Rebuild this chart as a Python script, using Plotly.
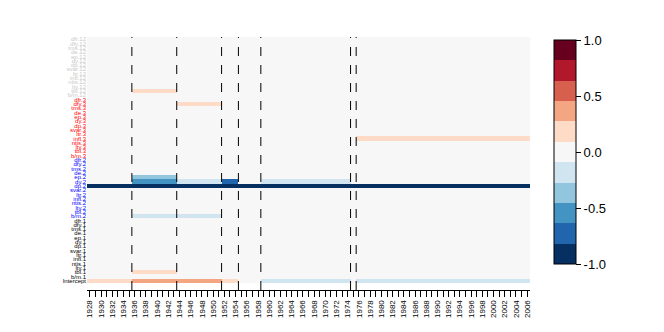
import numpy as np
import plotly.graph_objects as go

# ---- data ----
years = list(range(1928, 2007))
variables = ["b/m", "tbl", "lty", "ntis", "infl", "ltr", "svar",
             "dp", "dy", "ep", "de", "tms", "dfy", "dfr"]
lags = ["1", "2", "3", "12"]
lag_colors = {"1": "black", "2": "blue", "3": "red", "12": "#c8c8c8"}

# regime boundaries (dashed lines)
breaks = [1935.5, 1943.5, 1951.5, 1954.5, 1958.5, 1974.5, 1975.5]

# coefficient per regime (8 regimes between the breaks)
intercept_vals = [0.18, 0.35, 0.35, 0.18, 0.0, -0.18, 0.0, -0.18]
tbl1_vals      = [0.0, 0.18, 0.0, 0.0, 0.0, 0.0, 0.0, 0.0]
bm2_vals       = [0.0, -0.18, -0.18, 0.0, 0.0, 0.0, 0.0, 0.0]
dp2_vals       = [-1.0, -1.0, -1.0, -1.0, -1.0, -1.0, -1.0, -1.0]
dy2_vals       = [0.0, -0.55, -0.18, -0.75, 0.0, -0.18, 0.0, 0.0]
ep2_vals       = [0.0, -0.35, 0.0, 0.0, 0.0, 0.0, 0.0, 0.0]
infl3_vals     = [0.0, 0.0, 0.0, 0.0, 0.0, 0.0, 0.0, 0.18]
dfy3_vals      = [0.0, 0.0, 0.18, 0.0, 0.0, 0.0, 0.0, 0.0]
tbl12_vals     = [0.0, 0.18, 0.0, 0.0, 0.0, 0.0, 0.0, 0.0]

row_effects = {
    "Intercept": intercept_vals,
    "tbl.1": tbl1_vals,
    "b/m.2": bm2_vals,
    "dp.2": dp2_vals,
    "dy.2": dy2_vals,
    "ep.2": ep2_vals,
    "infl.3": infl3_vals,
    "dfy.3": dfy3_vals,
    "tbl.12": tbl12_vals,
}

palette = ["#053061", "#2166ac", "#4393c3", "#92c5de", "#d1e5f0", "#f7f7f7",
           "#fddbc7", "#f4a582", "#d6604d", "#b2182b", "#67001f"]

# ---- build matrix ----
row_names = ["Intercept"]
row_colors = ["black"]
for lag in lags:
    for v in variables:
        row_names.append(f"{v}.{lag}")
        row_colors.append(lag_colors[lag])

yrs = np.array(years, dtype=float)
regime_idx = np.searchsorted(np.array(breaks), yrs)
z = np.zeros((len(row_names), len(years)))
for name, vals in row_effects.items():
    r = row_names.index(name)
    z[r, :] = np.array(vals)[regime_idx]

n = len(palette)
colorscale = []
for i, c in enumerate(palette):
    colorscale.append([i / n, c])
    colorscale.append([(i + 1) / n, c])

ticktext = [f'<span style="color:{c}">{nm}</span>' for nm, c in zip(row_names, row_colors)]

fig = go.Figure(go.Heatmap(
    z=z, x=years, y=list(range(len(row_names))),
    colorscale=colorscale, zmin=-1, zmax=1,
    colorbar=dict(
        x=1.054, xanchor="left", xpad=0, ypad=0, thickness=22,
        len=0.885, y=0.545, yanchor="middle", outlinewidth=1, outlinecolor="black",
        tickvals=[-1, -0.5, 0, 0.5, 1], ticktext=["-1.0", "-0.5", "0.0", "0.5", "1.0"],
        ticks="outside", ticklen=5, tickcolor="black",
        tickfont=dict(family="Liberation Sans, Arial", size=13, color="black"),
    ),
    hoverongaps=False,
))

for b in breaks:
    fig.add_shape(type="line", x0=b, x1=b, xref="x", y0=0, y1=1, yref="paper",
                  line=dict(color="black", width=1, dash="dash"))

fig.update_layout(
    width=664, height=332,
    margin=dict(l=79, r=142, t=29, b=50),
    paper_bgcolor="white", plot_bgcolor="white",
    font=dict(family="Liberation Sans, Arial", color="black"),
    xaxis=dict(
        range=[1927.5, 2006.5], automargin=False, anchor="free", position=0,
        tickvals=years[::2], ticktext=[str(y) for y in years[::2]],
        tickangle=-90, tickfont=dict(size=8),
        ticks="outside", ticklen=6, tickcolor="black",
        minor=dict(ticks="outside", dtick=1, tick0=1928, ticklen=6, tickcolor="black"),
        showline=True, linecolor="black", showgrid=False, zeroline=False,
    ),
    yaxis=dict(
        domain=[0.0277, 1],
        range=[-0.5, len(row_names) - 0.5], automargin=False,
        tickvals=list(range(len(row_names))), ticktext=ticktext,
        tickfont=dict(size=6), ticks="", showgrid=False, zeroline=False,
    ),
)

fig.write_html("out.html")
